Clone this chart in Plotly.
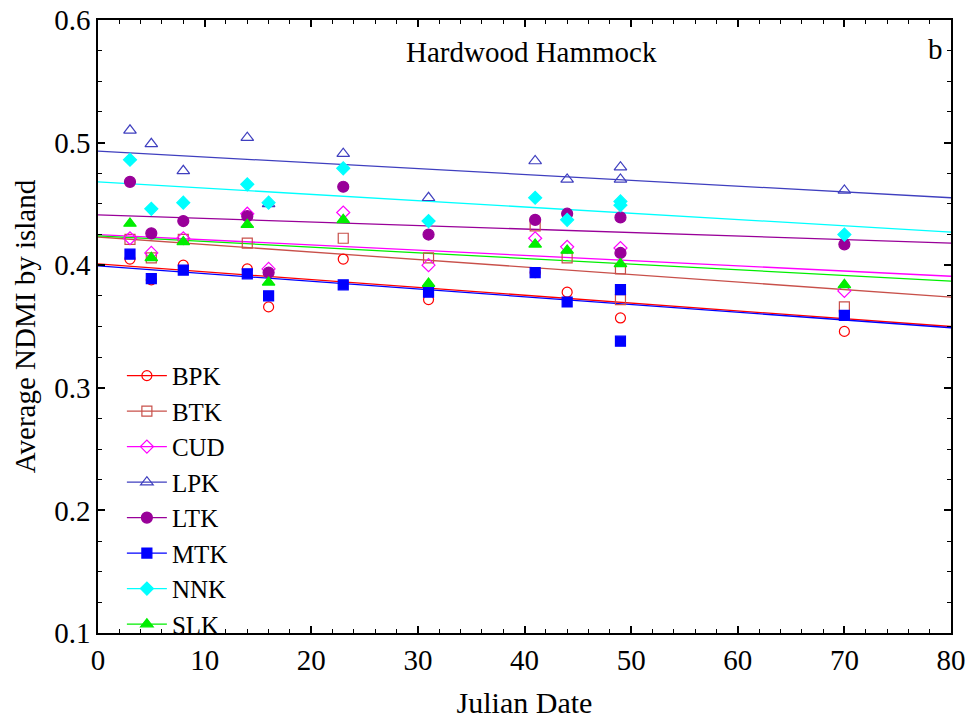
import plotly.graph_objects as go

# Julian dates of the observations (49 appears twice: two scenes)
dates = [3, 5, 8, 14, 16, 23, 31, 41, 44, 49, 49, 70]

islands = ["BPK", "BTK", "CUD", "LPK", "LTK", "MTK", "NNK", "SLK"]

bpk = [0.405, 0.388, 0.400, 0.397, 0.366, 0.405, 0.372, 0.394, 0.378, 0.357, None, 0.346]
btk = [0.421, 0.406, 0.421, 0.418, None, 0.422, 0.406, 0.432, 0.406, 0.397, 0.372, 0.366]
cud = [0.422, 0.410, 0.422, 0.442, 0.397, 0.443, 0.400, 0.422, 0.415, 0.414, None, 0.379]
lpk = [0.510, 0.499, 0.477, 0.504, 0.450, 0.491, 0.455, 0.485, 0.470, 0.480, 0.470, 0.461]
ltk = [0.468, 0.426, 0.436, 0.440, 0.394, 0.464, 0.425, 0.437, 0.442, 0.439, 0.410, 0.417]
mtk = [0.409, 0.389, 0.396, 0.393, 0.375, 0.384, 0.378, 0.394, 0.370, 0.380, 0.338, 0.359]
nnk = [0.486, 0.446, 0.451, 0.466, 0.451, 0.479, 0.436, 0.455, 0.437, 0.452, 0.449, 0.425]
slk = [0.434, 0.406, 0.419, 0.433, 0.386, 0.437, 0.385, 0.417, 0.412, 0.401, None, 0.384]

values = [bpk, btk, cud, lpk, ltk, mtk, nnk, slk]

# Linear fits: value at x=0 and at x=80
fit_x = [0, 80]
fit_start = [0.401, 0.423, 0.425, 0.493, 0.441, 0.3995, 0.468, 0.424]
fit_end = [0.350, 0.374, 0.391, 0.455, 0.418, 0.349, 0.427, 0.387]

colors = ["#ff0000", "#c8504a", "#ff00ff", "#3f3fbf", "#990099", "#0000ff", "#00ffff", "#00ee00"]
symbols = ["circle-open", "square-open", "diamond-open", "triangle-up-open",
           "circle", "square", "diamond", "triangle-up"]
sizes = [10, 10, 10, 11, 11, 10, 10, 11]

FONT = "Liberation Serif, Times New Roman, serif"

fig = go.Figure()

# regression lines
for i, name in enumerate(islands):
    fig.add_trace(go.Scatter(
        x=fit_x, y=[fit_start[i], fit_end[i]], mode="lines",
        line=dict(color=colors[i], width=1.3), showlegend=False, hoverinfo="skip"))

# observations
for i, name in enumerate(islands):
    fig.add_trace(go.Scatter(
        x=dates, y=values[i], mode="markers", name=name, showlegend=False,
        marker=dict(color=colors[i], symbol=symbols[i], size=sizes[i],
                    line=dict(color=colors[i], width=1.2))))

# legend entries (line + marker)
for i, name in enumerate(islands):
    fig.add_trace(go.Scatter(
        x=[None], y=[None], mode="lines+markers", name=name,
        line=dict(color=colors[i], width=1.3),
        marker=dict(color=colors[i], symbol=symbols[i], size=sizes[i],
                    line=dict(color=colors[i], width=1.2))))

axis_common = dict(
    showline=True, linecolor="black", linewidth=1.5, mirror="allticks",
    ticks="inside", ticklen=7, tickwidth=1.5, tickcolor="black",
    showgrid=False, zeroline=False, automargin=False,
    tickfont=dict(family=FONT, size=29, color="black"),
)

fig.update_xaxes(range=[0, 80], dtick=10, tick0=0,
                 minor=dict(ticks="inside", ticklen=4, dtick=2, tickcolor="black", tickwidth=1.2),
                 title=dict(text="Julian Date", font=dict(family=FONT, size=30, color="black"), standoff=20),
                 **axis_common)
fig.update_yaxes(range=[0.1, 0.6], dtick=0.1, tick0=0.1, tickformat=".1f",
                 minor=dict(ticks="inside", ticklen=4, dtick=0.025, tickcolor="black", tickwidth=1.2),
                 title=dict(text="Average NDMI by island", font=dict(family=FONT, size=29, color="black"), standoff=10),
                 **axis_common)

fig.add_annotation(text="Hardwood Hammock", xref="paper", yref="paper", x=0.508, y=0.947,
                   showarrow=False, font=dict(family=FONT, size=29, color="black"),
                   xanchor="center", yanchor="middle")
fig.add_annotation(text="b", xref="paper", yref="paper", x=0.982, y=0.952,
                   showarrow=False, font=dict(family=FONT, size=29, color="black"),
                   xanchor="center", yanchor="middle")

fig.update_layout(
    width=970, height=719,
    margin=dict(l=98, r=19, t=20, b=86, autoexpand=False),
    plot_bgcolor="white", paper_bgcolor="white",
    font=dict(family=FONT, color="black"),
    legend=dict(x=0.028, y=0.457, xanchor="left", yanchor="top",
                bgcolor="rgba(0,0,0,0)", font=dict(family=FONT, size=25, color="black"),
                tracegroupgap=0, itemwidth=40),
)

fig.write_html("out.html")
